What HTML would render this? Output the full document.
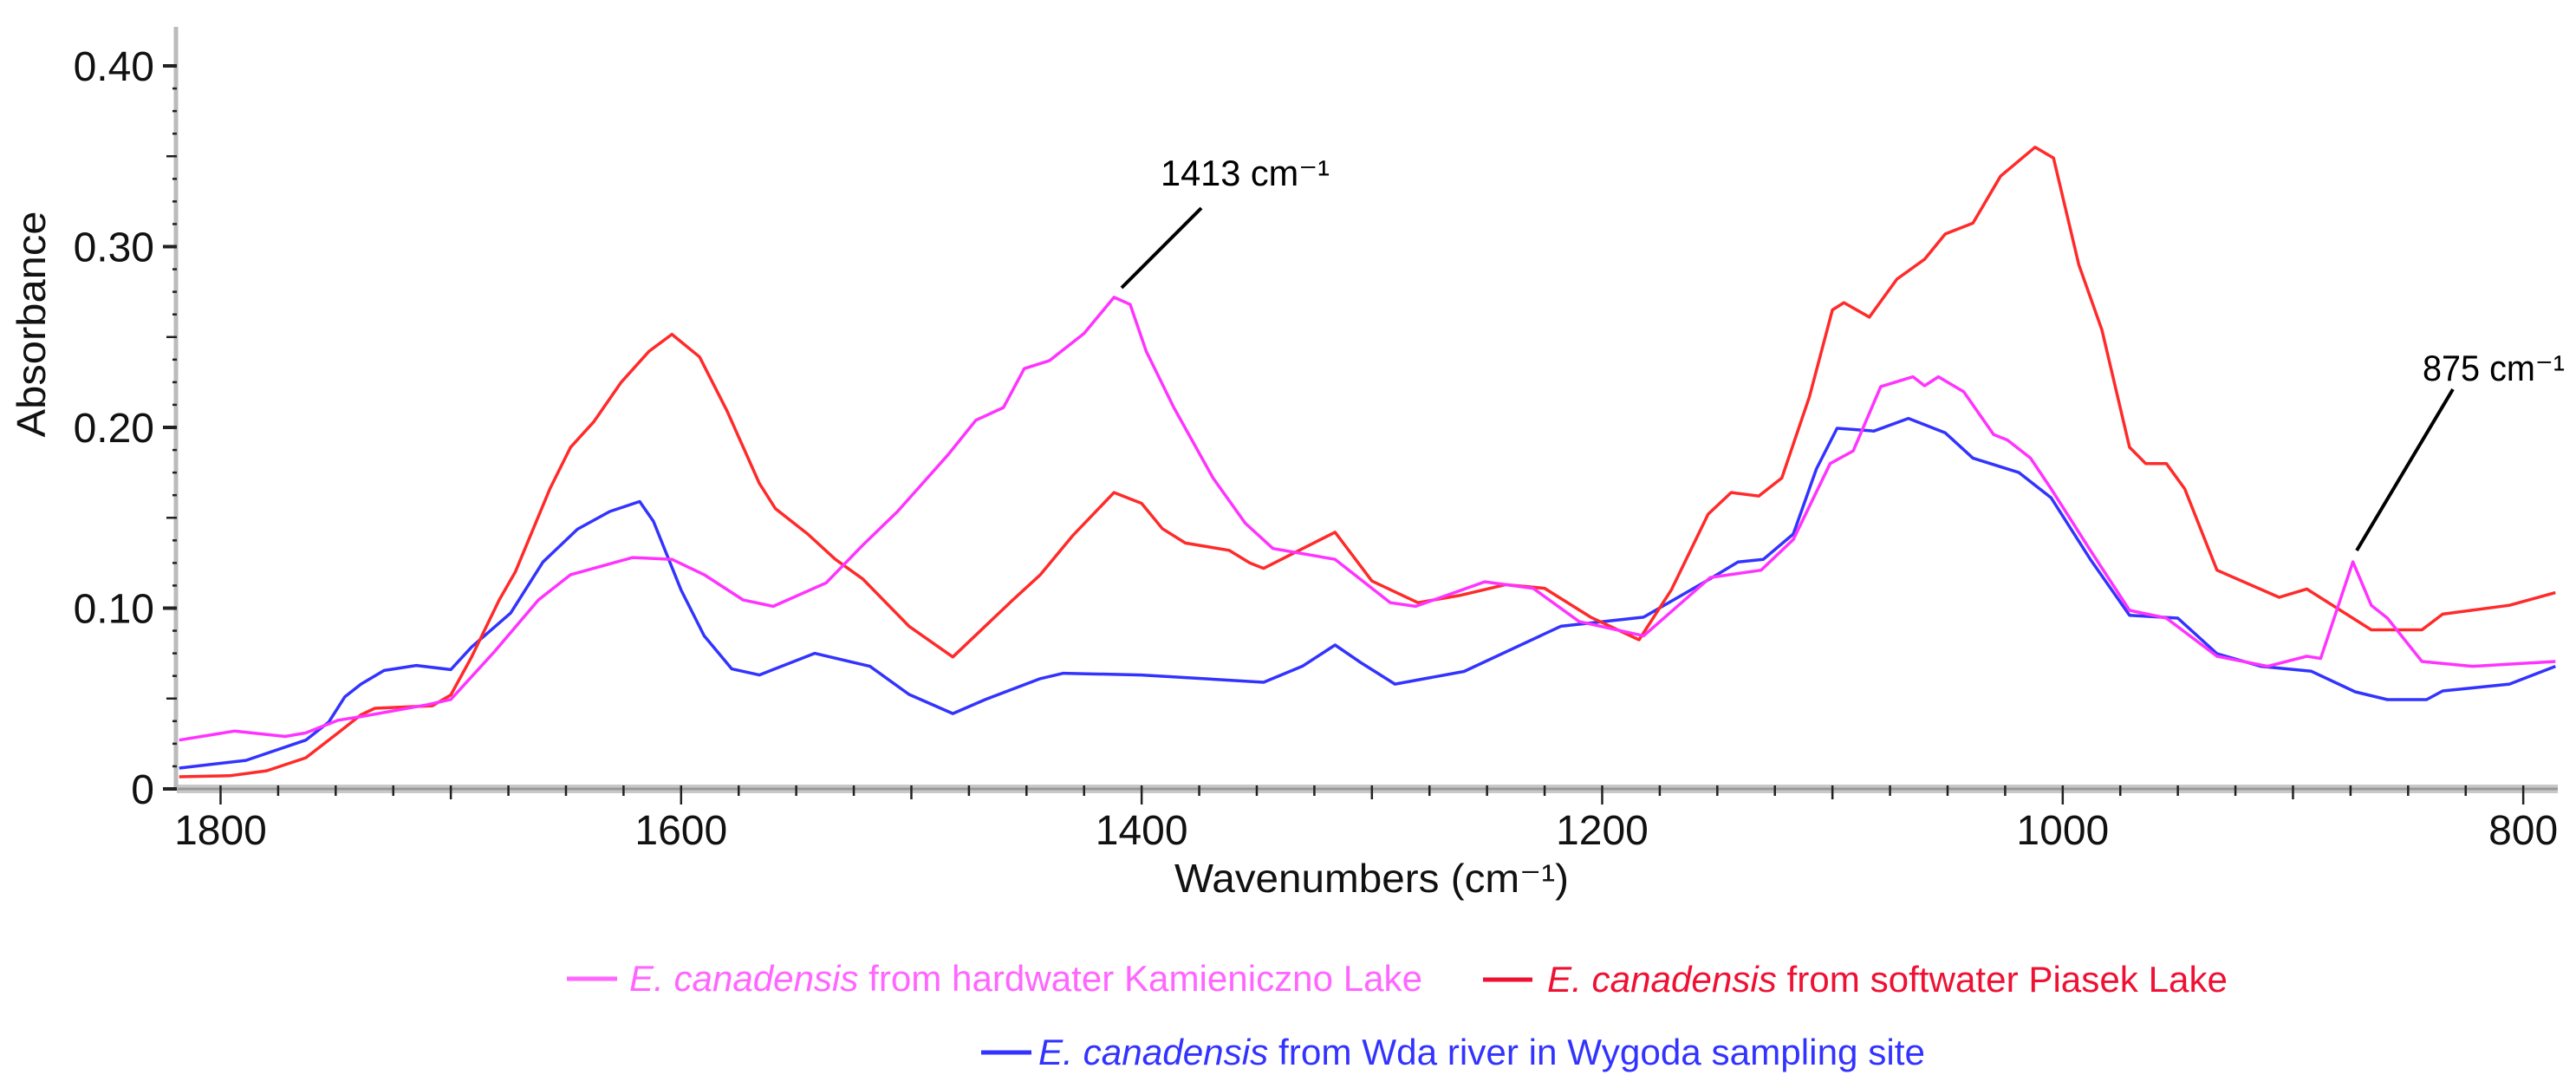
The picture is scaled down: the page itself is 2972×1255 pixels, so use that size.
<!DOCTYPE html>
<html><head><meta charset="utf-8"><style>
html,body{margin:0;padding:0;background:#fff;}
svg{display:block;}
text{font-family:"Liberation Sans Narrow","Liberation Sans",sans-serif;}
</style></head><body>
<svg id="chart" width="2972" height="1255" viewBox="0 0 2972 1255" xmlns="http://www.w3.org/2000/svg">
<g id="axes"></g>
<g id="series"></g>
<g id="annot">
  <text x="1339" y="214" font-size="42" font-family="Liberation Sans, sans-serif" textLength="195" lengthAdjust="spacingAndGlyphs">1413 cm⁻¹</text>
  <line x1="1386" y1="240" x2="1294" y2="332" stroke="#000" stroke-width="4"/>
  <text x="2795" y="439" font-size="42" font-family="Liberation Sans, sans-serif" textLength="164" lengthAdjust="spacingAndGlyphs">875 cm⁻¹</text>
  <line x1="2830" y1="449" x2="2719" y2="635" stroke="#000" stroke-width="4"/>
</g>
<g id="legend">
  <g>
    <line x1="654" y1="1129" x2="712" y2="1129" stroke="#ff66ff" stroke-width="5"/>
    <text x="726" y="1143" font-size="42" fill="#ff66ff" textLength="915" lengthAdjust="spacingAndGlyphs"><tspan font-style="italic">E. canadensis</tspan> from hardwater Kamieniczno Lake</text>
  </g>
  <g>
    <line x1="1711" y1="1130" x2="1768" y2="1130" stroke="#ee1133" stroke-width="5"/>
    <text x="1785" y="1144" font-size="42" fill="#ee1133" textLength="785" lengthAdjust="spacingAndGlyphs"><tspan font-style="italic">E. canadensis</tspan> from softwater Piasek Lake</text>
  </g>
  <g>
    <line x1="1132" y1="1214" x2="1190" y2="1214" stroke="#3333ff" stroke-width="5"/>
    <text x="1198" y="1228" font-size="42" fill="#3333ff" textLength="1023" lengthAdjust="spacingAndGlyphs"><tspan font-style="italic">E. canadensis</tspan> from Wda river in Wygoda sampling site</text>
  </g>
</g>
</svg>
<script>
// Data arrays
const xTicks = [1800, 1600, 1400, 1200, 1000, 800];
const xTickLabels = ["1800", "1600", "1400", "1200", "1000", "800"];
const yTicks = [0, 0.1, 0.2, 0.3, 0.4];
const yTickLabels = ["0", "0.10", "0.20", "0.30", "0.40"];
const seriesNames = ["kamieniczno", "piasek", "wda"];
const kamieniczno = [[1818,.027],[1794,.032],[1772,.029],[1763,.031],[1749,.038],[1739,.040],[1710,.0466],[1700,.0495],[1681,.076],[1662,.1045],[1648,.1185],[1621,.128],[1604,.127],[1590,.1185],[1573,.1045],[1560,.101],[1537,.114],[1521,.135],[1506,.1535],[1484,.185],[1472,.204],[1460,.211],[1451,.2325],[1440,.237],[1425,.252],[1412,.272],[1405,.268],[1398,.242],[1386,.211],[1369,.172],[1355,.147],[1343,.133],[1316,.127],[1292,.103],[1281,.101],[1251,.1146],[1230,.111],[1210,.0926],[1182,.0847],[1153,.117],[1131,.121],[1117,.138],[1101,.180],[1091,.187],[1079,.2226],[1065,.228],[1060,.223],[1054,.228],[1043,.2197],[1030,.196],[1024,.193],[1014,.183],[1005,.166],[988,.132],[971,.0988],[955,.0945],[933,.0734],[911,.0678],[894,.0734],[888,.0722],[874,.1256],[866,.1016],[859,.0945],[844,.0705],[822,.0678],[786,.0705]];
const piasek = [[1818,.0067],[1796,.0073],[1780,.010],[1763,.0172],[1749,.031],[1739,.041],[1733,.0446],[1708,.046],[1700,.052],[1691,.073],[1679,.1045],[1672,.12],[1657,.166],[1648,.189],[1638,.203],[1626,.225],[1614,.242],[1604,.2515],[1592,.239],[1580,.209],[1573,.189],[1566,.169],[1559,.155],[1545,.141],[1533,.127],[1521,.116],[1501,.090],[1482,.073],[1456,.1045],[1444,.1185],[1430,.14],[1412,.164],[1400,.158],[1391,.144],[1381,.136],[1362,.132],[1353,.125],[1347,.122],[1330,.133],[1316,.142],[1300,.115],[1280,.103],[1262,.107],[1242,.113],[1225,.111],[1205,.095],[1184,.0825],[1170,.11],[1154,.152],[1144,.164],[1132,.162],[1122,.172],[1110,.217],[1100,.265],[1095,.269],[1084,.261],[1072,.282],[1060,.293],[1051,.307],[1039,.313],[1027,.339],[1012,.355],[1004,.349],[993,.29],[983,.254],[971,.189],[964,.180],[955,.180],[947,.166],[933,.121],[906,.106],[894,.1106],[866,.088],[844,.088],[835,.0967],[806,.1016],[786,.1086]];
const wda = [[1818,.0115],[1789,.0158],[1763,.027],[1753,.037],[1746,.051],[1739,.058],[1729,.0655],[1715,.0683],[1700,.066],[1691,.0785],[1674,.0973],[1660,.1255],[1645,.1437],[1631,.1535],[1618,.159],[1612,.148],[1600,.110],[1590,.0847],[1578,.0664],[1566,.063],[1542,.075],[1518,.0678],[1501,.0523],[1482,.0417],[1468,.0494],[1444,.061],[1434,.064],[1400,.063],[1347,.059],[1330,.068],[1316,.0796],[1305,.07],[1290,.058],[1260,.065],[1218,.090],[1182,.095],[1154,.1156],[1141,.1255],[1130,.127],[1117,.141],[1107,.177],[1098,.1995],[1082,.198],[1067,.205],[1051,.197],[1039,.183],[1019,.175],[1005,.161],[988,.127],[971,.096],[950,.0945],[933,.0748],[914,.0678],[892,.0651],[873,.0537],[859,.0494],[842,.0494],[835,.0542],[806,.058],[786,.0678]];

const NS = "http://www.w3.org/2000/svg";
const X0 = 204, X1 = 2951, W0 = 1819, W1 = 785;
const Y0 = 910, YPER = 2085;
function xs(w){ return X0 + (W0 - w) * (X1 - X0) / (W0 - W1); }
function ys(a){ return Y0 - a * YPER; }
function mk(tag, attrs, parent){ const e = document.createElementNS(NS, tag); for (const k in attrs) e.setAttribute(k, attrs[k]); parent.appendChild(e); return e; }

const axes = document.getElementById('axes');
// x axis line
const xl = mk('rect', {x: X0, y: Y0 - 5, width: X1 - X0, height: 10, fill: '#c8c8c8'}, axes);


mk('line', {x1: X0, y1: Y0, x2: X1, y2: Y0, stroke: '#999', 'stroke-width': 3}, axes);
// y axis line
const yl = mk('line', {x1: X0 - 1, y1: 31, x2: X0 - 1, y2: Y0, stroke: '#bbb', 'stroke-width': 5}, axes);


// x minor ticks every 25
for (let w = 1800; w >= 800; w -= 25) {
  const major = (w % 200 === 0), mid = (w % 100 === 0);
  mk('line', {x1: xs(w), y1: Y0 - 4, x2: xs(w), y2: Y0 + (major ? 18 : (mid ? 12 : 8)), stroke: '#222', 'stroke-width': 2.5}, axes);
}
xTicks.forEach((w, i) => {
  const t = mk('text', {x: xs(w), y: 974, 'font-size': 48, 'text-anchor': 'middle', fill: '#111'}, axes);
  t.textContent = xTickLabels[i];
  
  
});
// y ticks
for (let k = 0; k <= 32; k++) {
  const a = k * 0.0125, y = ys(a);
  const major = (k % 8 === 0), mid = (k % 4 === 0);
  mk('line', {x1: major ? 188 : (mid ? 192 : 199), y1: y, x2: X0, y2: y, stroke: '#222', 'stroke-width': major ? 4 : 2.5}, axes);
}
yTicks.forEach((a, i) => {
  const t = mk('text', {x: 178, y: ys(a) + 17, 'font-size': 48, 'text-anchor': 'end', fill: '#111'}, axes);
  t.textContent = yTickLabels[i];
  
  
});
const yt = mk('text', {x: 0, y: 0, 'font-size': 46, 'text-anchor': 'middle', fill: '#111', transform: 'translate(52,374) rotate(-90)', 'font-family': 'Liberation Sans, sans-serif', textLength: 261, lengthAdjust: 'spacingAndGlyphs'}, axes);
yt.textContent = 'Absorbance';


const xt = mk('text', {x: 1355, y: 1029, 'font-size': 46, fill: '#111', 'font-family': 'Liberation Sans, sans-serif', textLength: 455, lengthAdjust: 'spacingAndGlyphs'}, axes);
xt.textContent = 'Wavenumbers (cm⁻¹)';



const sg = document.getElementById('series');
function drawSeries(data, color, name) {
  const d = data.map((p, i) => (i ? 'L' : 'M') + xs(p[0]).toFixed(1) + ' ' + ys(p[1]).toFixed(1)).join(' ');
  const p = mk('path', {d: d, fill: 'none', stroke: color, 'stroke-width': 3.5, 'stroke-linejoin': 'round'}, sg);
  
  
}
drawSeries(wda, '#3333ff', 'series-wda');
drawSeries(piasek, '#ff2a2a', 'series-piasek');
drawSeries(kamieniczno, '#ff33ff', 'series-kamieniczno');
</script>
</body></html>
